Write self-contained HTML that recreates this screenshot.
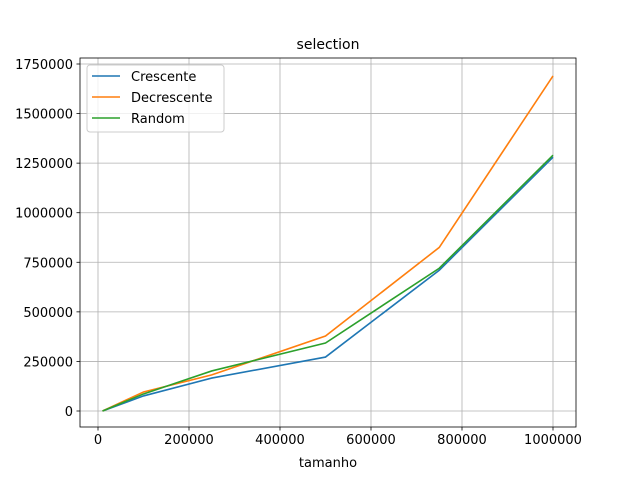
<!DOCTYPE html>
<html><head><meta charset="utf-8"><style>
body{margin:0;background:#fff;font-family:"Liberation Sans","DejaVu Sans",sans-serif}
</style></head><body>
<svg id="chart" width="640" height="480" xmlns="http://www.w3.org/2000/svg" font-family="DejaVu Sans, Liberation Sans, sans-serif"></svg>
<script>
const sizes=[10000,100000,250000,500000,750000,1000000];
const crescente=[0,76000,166000,272000,710000,1280000];
const decrescente=[0,96000,182000,378000,825000,1690000];
const random=[0,86000,202000,343000,720000,1290000];
const xTicks=[0,200000,400000,600000,800000,1000000];
const yTicks=[0,250000,500000,750000,1000000,1250000,1500000,1750000];
const L=80,R=576,T=58,B=427;
const xs=v=>98+v*455e-6;
const ys=v=>411-v*(347/1.75e6);
const svg=document.getElementById('chart');
const NS='http://www.w3.org/2000/svg';
function mk(t,a,txt){const e=document.createElementNS(NS,t);for(const k in a)e.setAttribute(k,a[k]);if(txt!==undefined)e.textContent=txt;svg.appendChild(e);return e;}
let e;
xTicks.forEach(v=>{const x=xs(v);
e=mk('line',{x1:x,x2:x,y1:T,y2:B,stroke:'#b0b0b0','stroke-width':0.8});


e=mk('line',{x1:x,x2:x,y1:B,y2:B+3.5,stroke:'#000','stroke-width':0.8});


e=mk('text',{x:x,y:B+17,'text-anchor':'middle','font-size':13},String(v));


});
yTicks.forEach(v=>{const y=ys(v);
e=mk('line',{x1:L,x2:R,y1:y,y2:y,stroke:'#b0b0b0','stroke-width':0.8});


e=mk('line',{x1:L-3.5,x2:L,y1:y,y2:y,stroke:'#000','stroke-width':0.8});


e=mk('text',{x:L-7,y:y+5,'text-anchor':'end','font-size':13},String(v));


});
const series=[[crescente,'#1f77b4','crescente-line'],[decrescente,'#ff7f0e','decrescente-line'],[random,'#2ca02c','random-line']];
series.forEach(([d,c,n])=>{
e=mk('polyline',{points:d.map((v,i)=>xs(sizes[i])+','+ys(v)).join(' '),fill:'none',stroke:c,'stroke-width':1.6});


});
e=mk('rect',{x:L,y:T,width:R-L,height:B-T,fill:'none',stroke:'#000','stroke-width':0.8});


e=mk('text',{x:328,y:49,'text-anchor':'middle','font-size':14},'selection');


e=mk('text',{x:328,y:467,'text-anchor':'middle','font-size':13},'tamanho');


e=mk('rect',{x:87,y:65,width:137,height:67,rx:3,fill:'#fff','fill-opacity':0.8,stroke:'#ccc'});


[['Crescente','#1f77b4'],['Decrescente','#ff7f0e'],['Random','#2ca02c']].forEach(([t,c],i)=>{
const y=76+i*21;
e=mk('line',{x1:92,x2:120,y1:y,y2:y,stroke:c,'stroke-width':1.6});


e=mk('text',{x:131,y:y+5,'font-size':13},t);


});
</script>
</body></html>
